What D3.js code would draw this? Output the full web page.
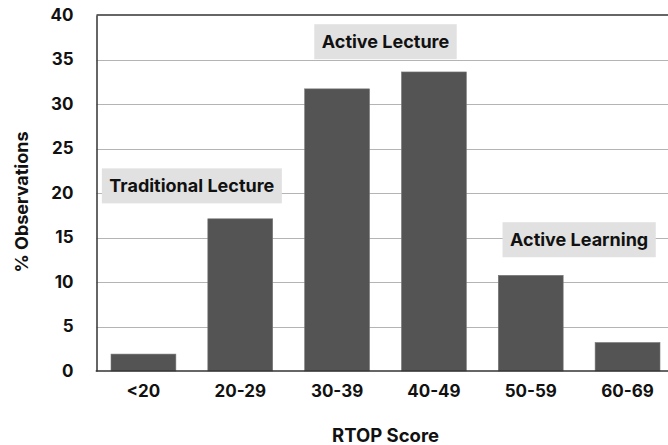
<!DOCTYPE html>
<html>
<head>
<meta charset="utf-8">
<script src="https://cdn.jsdelivr.net/npm/d3@7/dist/d3.min.js"></script>
<style>
  html, body { margin: 0; padding: 0; background: #fff; }
  svg { display: block; }
  text { font-family: Inter, "Liberation Sans", Arial, sans-serif; font-weight: bold; fill: #111; }
</style>
</head>
<body>
<svg id="chart" width="668" height="445"></svg>
<script>
const categories = ["<20", "20-29", "30-39", "40-49", "50-59", "60-69"];
const values = [1.9, 17.1, 31.7, 33.6, 10.75, 3.2];
const yTicks = [0, 5, 10, 15, 20, 25, 30, 35, 40];
const annotationLabels = ["Traditional Lecture", "Active Lecture", "Active Learning"];
const annotationBetween = [["<20", "20-29"], ["30-39", "40-49"], ["50-59", "60-69"]];
const annotationY = [20.8, 37.0, 14.75];
const xTitle = "RTOP Score";
const yTitle = "% Observations";

(function () {
const FONT = "Inter, Liberation Sans, Arial, sans-serif";
const svg = d3.select("#chart");
const plotLeft = 96.5, plotRight = 668, plotTop = 15, plotBottom = 371;

const x = d3.scaleBand().domain(categories).range([96, 675]).paddingInner(0.33).paddingOuter(0.155);
const y = d3.scaleLinear().domain([0, 40]).range([plotBottom, plotTop]);

// gridlines
svg.append("g").selectAll("line").data(yTicks.filter(t => t > 0 && t < 40)).join("line")
  .attr("x1", plotLeft).attr("x2", plotRight)
  .attr("y1", d => Math.round(y(d)) + 0.5).attr("y2", d => Math.round(y(d)) + 0.5)
  .attr("stroke", "#b4b4b4").attr("stroke-width", 1.2);

// top frame line
svg.append("line").attr("x1", plotLeft).attr("x2", plotRight)
  .attr("y1", y(40)).attr("y2", y(40)).attr("stroke", "#333").attr("stroke-width", 1.5);

// bars
svg.append("g").selectAll("rect").data(values).join("rect")
  .attr("x", (d, i) => x(categories[i]))
  .attr("width", x.bandwidth())
  .attr("y", d => y(d))
  .attr("height", d => y(0) - y(d))
  .attr("fill", "#545454")
  .attr("stroke", "#777").attr("stroke-width", 0.6);

// y axis
const yAxis = d3.axisLeft(y).tickValues(yTicks).tickSize(0).tickPadding(23);
const gy = svg.append("g").attr("transform", `translate(${plotLeft},0)`).call(yAxis);
gy.select(".domain").attr("stroke", "#333").attr("stroke-width", 1.5);
gy.selectAll("text").attr("font-size", 17).attr("fill", "#111")
  .attr("font-family", FONT).attr("font-weight", "bold");

// x axis
const xAxis = d3.axisBottom(x).tickSize(0).tickPadding(14);
const gx = svg.append("g").attr("transform", `translate(0,${plotBottom})`).call(xAxis);
gx.select(".domain").remove();
gx.selectAll("text").attr("font-size", 17).attr("fill", "#111")
  .attr("font-family", FONT).attr("font-weight", "bold");
svg.append("line").attr("x1", plotLeft - 0.75).attr("x2", plotRight)
  .attr("y1", plotBottom).attr("y2", plotBottom).attr("stroke", "#333").attr("stroke-width", 1.5);

// annotations
annotationLabels.forEach((lab, i) => {
  const [a, b] = annotationBetween[i];
  const cx = (x(a) + x(b)) / 2 + x.bandwidth() / 2;
  const cy = y(annotationY[i]);
  const g = svg.append("g");
  const t = g.append("text").attr("x", cx).attr("y", cy).attr("text-anchor", "middle")
    .attr("dominant-baseline", "central").attr("font-size", 18).text(lab);
  const w = t.node().getComputedTextLength();
  g.insert("rect", "text").attr("x", cx - w / 2 - 7.5).attr("y", cy - 17.5)
    .attr("width", w + 15).attr("height", 35).attr("fill", "#e1e1e1");
});

// axis titles
svg.append("text").attr("x", (x(categories[0]) + x(categories[5]) + x.bandwidth()) / 2).attr("y", 442)
  .attr("text-anchor", "middle").attr("font-size", 18.5).text(xTitle);
svg.append("text").attr("transform", `translate(28,202) rotate(-90)`)
  .attr("text-anchor", "middle").attr("font-size", 18).text(yTitle);
})();
</script>
</body>
</html>
